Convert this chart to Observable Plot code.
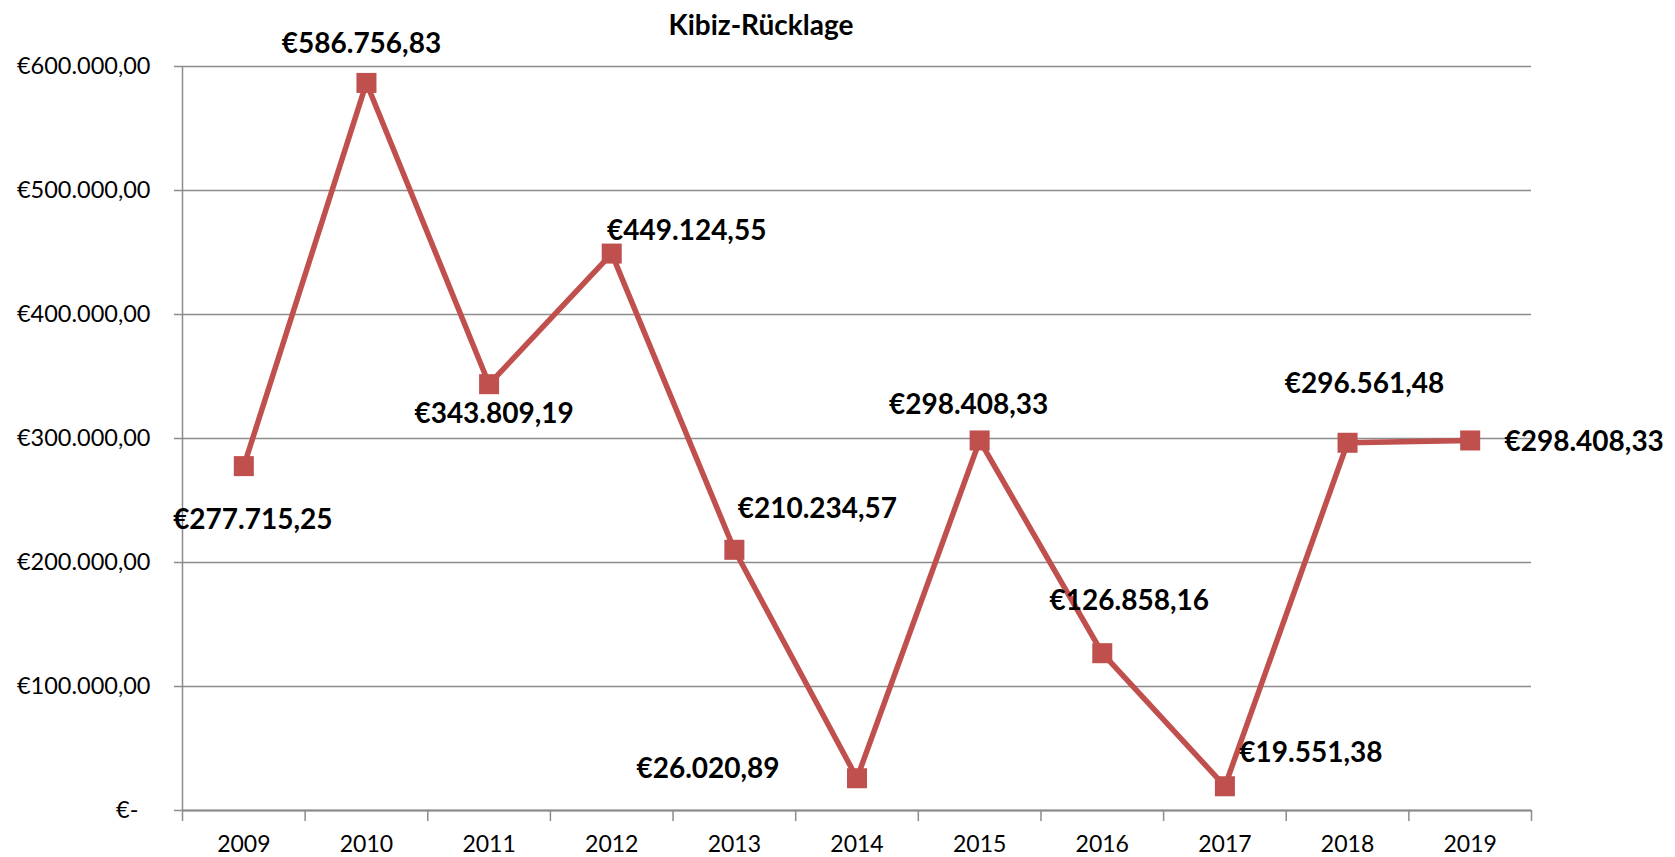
<!DOCTYPE html>
<html>
<head>
<meta charset="utf-8">
<script src="https://cdn.jsdelivr.net/npm/d3@7"></script>
<script src="https://cdn.jsdelivr.net/npm/@observablehq/plot@0.6"></script>
<style>
  body { margin: 0; background: white; }
  #wrap { position: relative; width: 1675px; height: 857px; font-family: Lato, "Open Sans", sans-serif; }
  #title { position: absolute; left: 0; top: 6px; width: 1522px; text-align: center; font-size: 28px; font-weight: bold; color: #000; line-height: 36px; }
</style>
</head>
<body>
<div id="wrap">
  <div id="chart"></div>
  <div id="title">Kibiz-Rücklage</div>
</div>
<script>
// Data
const years = [2009, 2010, 2011, 2012, 2013, 2014, 2015, 2016, 2017, 2018, 2019];
const values = [277715.25, 586756.83, 343809.19, 449124.55, 210234.57, 26020.89, 298408.33, 126858.16, 19551.38, 296561.48, 298408.33];
const yTicks = [0, 100000, 200000, 300000, 400000, 500000, 600000];

// Label placement (layout only, pixels)
const labelDx = [9, -5, 5, 75, 83, -149, -11, 27, 86, 17, 114];
const labelDy = [54, -39, 30, -23, -41, -9, -35, -52, -33, -59, 2];

const locale = d3.formatLocale({decimal: ",", thousands: ".", grouping: [3], currency: ["€", ""]});
const fmt = locale.format("$,.2f");
const euro = v => v === 0 ? "€-" : fmt(v);
const tickEuro = v => v === 0 ? "€-\u00a0\u00a0" : fmt(v);

const data = years.map((y, i) => ({year: y, value: values[i]}));
const bounds = years.map(y => y - 0.5).concat([years[years.length - 1] + 0.5]);

const grid = "#8c8c8c";
const red = "#C0504D";

const labelMarks = data.map((d, i) => Plot.text([d], {
  x: "year", y: "value", text: dd => euro(dd.value),
  dx: labelDx[i], dy: labelDy[i],
  fontSize: 28, fontWeight: "bold", fill: "#000", textAnchor: "middle"
}));

const chart = Plot.plot({
  width: 1675,
  height: 857,
  marginTop: 66,
  marginBottom: 47,
  marginLeft: 182,
  marginRight: 144,
  style: {fontFamily: "Lato, 'Open Sans', sans-serif", background: "white", overflow: "visible"},
  x: {type: "linear", domain: [bounds[0], bounds[bounds.length - 1]]},
  y: {domain: [0, 600000]},
  marks: [
    Plot.gridY(yTicks, {stroke: grid, strokeOpacity: 1, strokeWidth: 1.5}),
    Plot.axisY(yTicks, {tickSize: 8, tickPadding: 24, tickFormat: tickEuro, fontSize: 23.5, stroke: grid, strokeWidth: 1.5, fill: "#000", label: null}),
    Plot.axisX(bounds, {tickSize: 11, tickFormat: () => "", stroke: grid, strokeWidth: 1.5, label: null}),
    Plot.axisX(years, {tickSize: 0, tickPadding: 25, tickFormat: d => String(d), fontSize: 23, fill: "#000", label: null}),
    Plot.ruleX([bounds[0]], {y1: 0, y2: 600000, stroke: grid, strokeWidth: 1.5}),
    Plot.ruleY([0], {stroke: grid, strokeWidth: 2}),
    Plot.line(data, {x: "year", y: "value", stroke: red, strokeWidth: 5.5}),
    Plot.dot(data, {x: "year", y: "value", symbol: "square", r: 11.3, fill: red, stroke: null}),
    ...labelMarks
  ]
});
document.getElementById("chart").appendChild(chart);
</script>
</body>
</html>
